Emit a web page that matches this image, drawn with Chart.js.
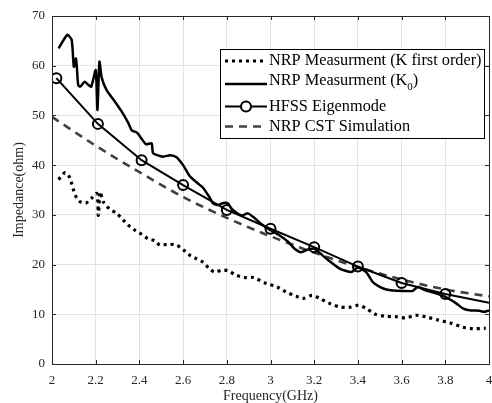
<!DOCTYPE html>
<html>
<head>
<meta charset="utf-8">
<script src="https://cdn.jsdelivr.net/npm/chart.js@4.4.1/dist/chart.umd.min.js"></script>
<style>
  html, body { margin: 0; padding: 0; background: #fff; }
  #wrap { width: 492px; height: 403px; position: relative; }
</style>
</head>
<body>
<div id="wrap"><canvas id="imp-chart"></canvas></div>
<script>
  // NRP Measurment (K first order)
  const k1Freq = [2.03, 2.06, 2.08, 2.09, 2.10, 2.114, 2.13, 2.156, 2.18, 2.205, 2.212, 2.22, 2.235, 2.266, 2.296, 2.327, 2.35, 2.38, 2.41, 2.44, 2.47, 2.494, 2.53, 2.57, 2.60, 2.63, 2.66, 2.69, 2.72, 2.745, 2.78, 2.81, 2.84, 2.88, 2.92, 2.98, 3.03, 3.07, 3.12, 3.15, 3.19, 3.225, 3.27, 3.316, 3.36, 3.40, 3.437, 3.48, 3.53, 3.575, 3.62, 3.666, 3.71, 3.77, 3.82, 3.88, 3.925, 3.985];
  const k1Imp = [37.1, 38.5, 37.6, 36.3, 34.8, 33.3, 32.6, 32.4, 33.3, 34.3, 29.9, 34.6, 32.6, 31.1, 30.3, 28.9, 27.9, 26.9, 26.1, 25.2, 24.8, 23.9, 24.1, 23.9, 23.0, 21.9, 21.2, 20.5, 19.2, 18.5, 18.9, 18.7, 17.9, 17.4, 17.4, 16.2, 15.5, 14.5, 13.6, 13.2, 13.8, 13.2, 12.2, 11.5, 11.4, 11.8, 11.2, 10.0, 9.6, 9.5, 9.3, 9.8, 9.5, 8.8, 8.3, 7.4, 7.1, 7.2];

  // NRP Measurment (K0)
  const k0Freq = [2.03, 2.07, 2.09, 2.10, 2.11, 2.114, 2.12, 2.13, 2.15, 2.167, 2.18, 2.20, 2.208, 2.217, 2.228, 2.25, 2.289, 2.32, 2.35, 2.365, 2.39, 2.43, 2.456, 2.463, 2.509, 2.54, 2.57, 2.60, 2.63, 2.66, 2.69, 2.72, 2.737, 2.76, 2.785, 2.806, 2.82, 2.867, 2.897, 2.92, 2.966, 2.996, 3.04, 3.08, 3.11, 3.14, 3.171, 3.20, 3.255, 3.316, 3.37, 3.40, 3.438, 3.468, 3.50, 3.53, 3.56, 3.605, 3.65, 3.674, 3.71, 3.757, 3.80, 3.85, 3.88, 3.91, 3.955, 3.98, 4.0];
  const k0Imp = [63.5, 66.2, 65.2, 59.8, 61.5, 59.5, 56.1, 55.8, 56.8, 56.1, 55.8, 59.1, 51.1, 60.8, 57.5, 55.1, 52.7, 50.7, 48.4, 47.0, 46.5, 44.2, 44.4, 42.4, 41.7, 42.0, 41.6, 40.0, 37.8, 36.6, 35.5, 33.6, 32.3, 32.0, 32.4, 32.3, 31.3, 29.9, 30.3, 29.6, 27.9, 27.0, 25.9, 24.6, 23.2, 22.5, 23.0, 23.2, 21.2, 19.2, 18.5, 19.4, 18.5, 16.5, 15.5, 15.0, 14.8, 14.7, 14.7, 15.5, 14.8, 14.2, 13.5, 12.2, 11.2, 10.8, 10.7, 10.5, 10.8];

  // HFSS Eigenmode
  const hfssFreq = [2.02, 2.21, 2.41, 2.6, 2.8, 3.0, 3.2, 3.4, 3.6, 3.8, 4.0];
  const hfssImp = [57.5, 48.3, 41.0, 36.0, 31.0, 27.2, 23.5, 19.6, 16.3, 14.1, 12.3];

  // NRP CST Simulation
  const cstFreq = [2.0, 2.2, 2.4, 2.6, 2.8, 3.0, 3.2, 3.4, 3.6, 3.8, 4.0];
  const cstImp = [49.7, 43.9, 38.6, 33.6, 29.4, 25.7, 22.4, 19.5, 17.0, 15.0, 13.6];

  const legendLabels = ["NRP Measurment (K first order)", "NRP Measurment (K", "HFSS Eigenmode", "NRP CST Simulation"];

  function pts(xs, ys) {
    return xs.map((x, i) => ({ x: x, y: ys[i] }));
  }

  const SERIF = "'Liberation Serif', 'Times New Roman', serif";
  const AXIS_C = "#262626";

  // cadre + petites graduations vers l'interieur + legende
  const framePlugin = {
    id: "frame",
    afterDraw(chart) {
      const c = chart.ctx;
      const a = chart.chartArea;
      const xs = chart.scales.x, ys = chart.scales.y;
      c.save();
      c.strokeStyle = AXIS_C;
      c.lineWidth = 1;
      c.strokeRect(Math.round(a.left) + 0.5, Math.round(a.top) + 0.5, Math.round(a.right - a.left), Math.round(a.bottom - a.top));
      c.beginPath();
      xs.ticks.forEach(t => {
        const px = Math.round(xs.getPixelForValue(t.value)) + 0.5;
        c.moveTo(px, a.bottom); c.lineTo(px, a.bottom - 4);
        c.moveTo(px, a.top); c.lineTo(px, a.top + 4);
      });
      ys.ticks.forEach(t => {
        const py = Math.round(ys.getPixelForValue(t.value)) + 0.5;
        c.moveTo(a.left, py); c.lineTo(a.left + 4, py);
        c.moveTo(a.right, py); c.lineTo(a.right - 4, py);
      });
      c.stroke();

      // legende
      const bx = 220, by = 49, bw = 264, bh = 89;
      c.fillStyle = "#fff";
      c.fillRect(bx, by, bw, bh);
      c.strokeStyle = "#000";
      c.strokeRect(bx + 0.5, by + 0.5, bw, bh);
      const rows = [61, 84, 106.5, 126.5];
      const ds = chart.data.datasets;
      rows.forEach((ry, i) => {
        const d = ds[i];
        c.save();
        c.strokeStyle = d.borderColor;
        c.lineWidth = d.borderWidth;
        c.setLineDash(d.borderDash || []);
        c.lineCap = "butt";
        c.beginPath();
        c.moveTo(225, ry); c.lineTo(267, ry);
        c.stroke();
        if (i === 2) {
          c.setLineDash([]);
          c.lineWidth = 2;
          c.beginPath();
          c.arc(246, ry, 5, 0, Math.PI * 2);
          c.fillStyle = "#fff";
          c.fill();
          c.stroke();
        }
        c.restore();
        c.fillStyle = "#000";
        c.font = "16.3px " + SERIF;
        c.textBaseline = "middle";
        const ty = i === 1 ? ry - 3 : ry;
        c.fillText(legendLabels[i], 269, ty);
        if (i === 1) {
          const w = c.measureText(legendLabels[i]).width;
          c.font = "11px " + SERIF;
          c.fillText("0", 269 + w, ty + 6);
          const w2 = c.measureText("0").width;
          c.font = "16.3px " + SERIF;
          c.fillText(")", 269 + w + w2, ty);
        }
      });
      c.restore();
    }
  };

  const ctx = document.getElementById("imp-chart").getContext("2d");
  new Chart(ctx, {
    type: "line",
    data: {
      datasets: [
        {
          label: "NRP Measurment (K first order)",
          data: pts(k1Freq, k1Imp),
          borderColor: "#000",
          borderWidth: 3.2,
          borderDash: [3, 4],
          pointRadius: 0,
          tension: 0.3,
          fill: false
        },
        {
          label: "NRP Measurment (K0)",
          data: pts(k0Freq, k0Imp),
          borderColor: "#000",
          borderWidth: 2.5,
          pointRadius: 0,
          tension: 0.2,
          fill: false
        },
        {
          label: "HFSS Eigenmode",
          data: pts(hfssFreq, hfssImp),
          borderColor: "#000",
          borderWidth: 2,
          pointRadius: (c) => (c.dataIndex === hfssFreq.length - 1 ? 0 : 5),
          pointBorderWidth: 2,
          pointBorderColor: "#000",
          pointBackgroundColor: "rgba(255,255,255,0)",
          tension: 0,
          fill: false
        },
        {
          label: "NRP CST Simulation",
          data: pts(cstFreq, cstImp),
          borderColor: "#404040",
          borderWidth: 2.6,
          borderDash: [8, 6],
          pointRadius: 0,
          cubicInterpolationMode: "monotone",
          fill: false
        }
      ]
    },
    options: {
      responsive: true,
      maintainAspectRatio: false,
      animation: false,
      layout: { autoPadding: false, padding: { top: 16, right: 3, left: 0, bottom: 0 } },
      plugins: {
        legend: { display: false },
        tooltip: { enabled: false }
      },
      scales: {
        x: {
          type: "linear",
          min: 2,
          max: 4,
          afterFit: (s) => { s.height = 39; s.paddingLeft = 0; s.paddingRight = 0; },
          ticks: {
            stepSize: 0.2,
            color: AXIS_C,
            font: { family: SERIF, size: 13 },
            padding: 9,
            maxRotation: 0,
            callback: (v) => String(Number(v.toFixed(1)))
          },
          grid: { color: "#e3e3e3", drawTicks: false },
          border: { display: false },
          title: {
            display: true,
            text: "Frequency(GHz)",
            color: AXIS_C,
            font: { family: SERIF, size: 14 },
            padding: { top: 0, bottom: -2 }
          }
        },
        y: {
          min: 0,
          max: 70,
          afterFit: (s) => { s.width = 52; s.paddingTop = 0; s.paddingBottom = 0; },
          ticks: {
            stepSize: 10,
            color: AXIS_C,
            font: { family: SERIF, size: 13 },
            padding: 7
          },
          grid: { color: "#e3e3e3", drawTicks: false },
          border: { display: false },
          title: {
            display: true,
            text: "Impedance(ohm)",
            color: AXIS_C,
            font: { family: SERIF, size: 14 },
            padding: { top: 11, bottom: 0 }
          }
        }
      }
    },
    plugins: [framePlugin]
  });
</script>
</body>
</html>
